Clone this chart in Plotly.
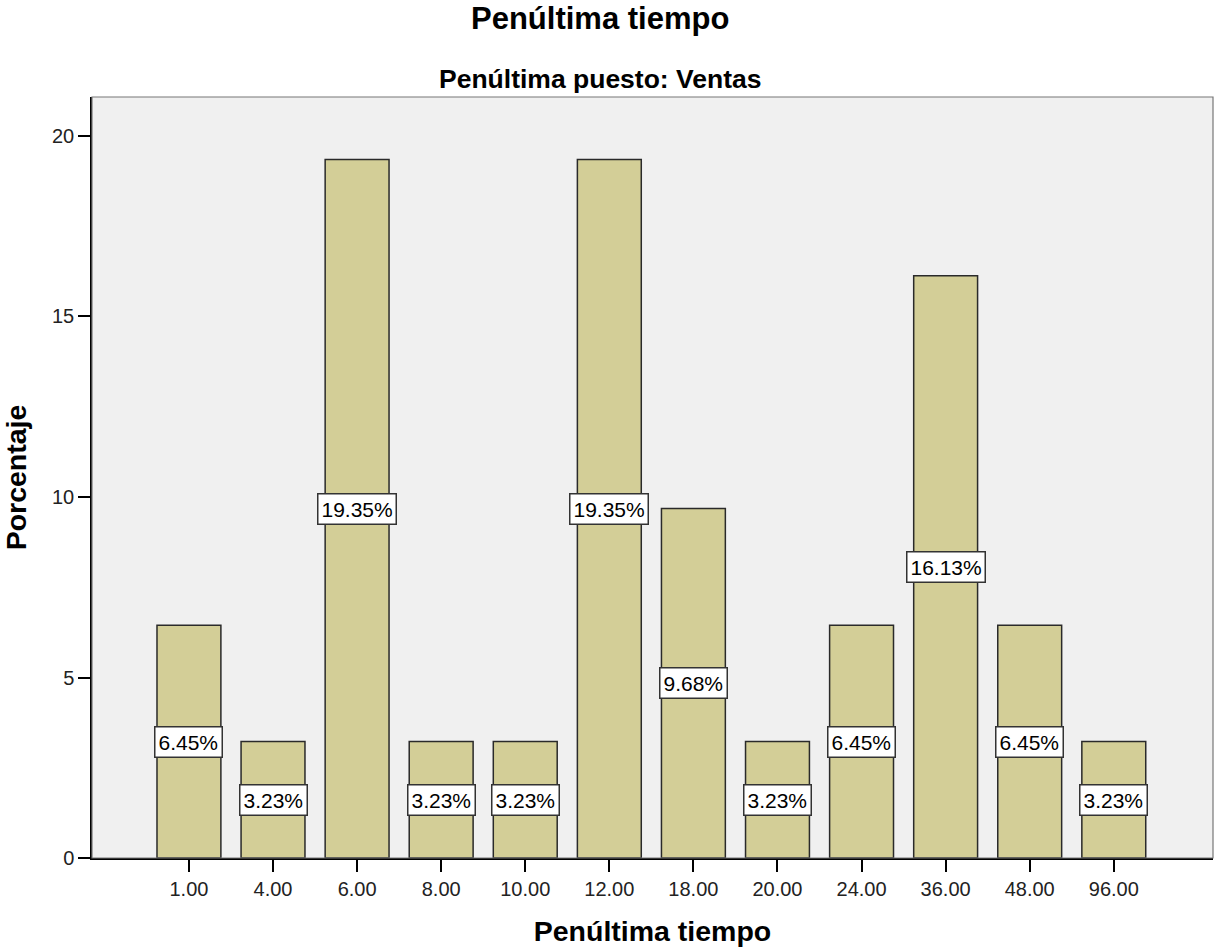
import plotly.graph_objects as go

categories = ["1.00", "4.00", "6.00", "8.00", "10.00", "12.00", "18.00", "20.00", "24.00", "36.00", "48.00", "96.00"]
percentages = [6.45, 3.23, 19.35, 3.23, 3.23, 19.35, 9.68, 3.23, 6.45, 16.13, 6.45, 3.23]
y_ticks = [0, 5, 10, 15, 20]

FONT = "Liberation Sans, Arial, sans-serif"

fig = go.Figure()
fig.add_trace(go.Bar(
    x=categories, y=percentages,
    marker=dict(color="#D3CE97", line=dict(color="#2A2A2A", width=1.5)),
    width=0.76,
    hoverinfo="x+y",
))

for i, v in enumerate(percentages):
    fig.add_annotation(
        x=i, y=v / 2, xref="x", yref="y",
        text=f"{v:.2f}%", showarrow=False,
        font=dict(family=FONT, size=21, color="#000000"),
        bgcolor="#FFFFFF", bordercolor="#333333", borderwidth=1.5, borderpad=3,
    )

fig.add_annotation(
    x=0.454, y=1.0, xref="paper", yref="paper", yanchor="bottom", yshift=1,
    text="<b>Penúltima puesto: Ventas</b>", showarrow=False,
    font=dict(family=FONT, size=26.5, color="#000000"),
)

fig.add_shape(type="rect", xref="paper", yref="paper", x0=0, y0=0, x1=1, y1=1,
              line=dict(color="#777777", width=1.2), layer="above")

fig.update_layout(
    width=1215, height=950,
    margin=dict(l=92, r=2, t=97, b=92),
    paper_bgcolor="#FFFFFF", plot_bgcolor="#F0F0F0",
    showlegend=False,
    title=dict(text="<b>Penúltima tiempo</b>", x=0.494, xanchor="center", y=0.981, yanchor="middle",
               font=dict(family=FONT, size=31, color="#000000")),
    xaxis=dict(
        type="category", range=[-1.153, 12.18],
        showgrid=False, showline=True, linecolor="#000000", linewidth=1.5,
        ticks="outside", ticklen=12, tickcolor="#000000", tickwidth=1.5,
        tickfont=dict(family=FONT, size=20, color="#222222"),
        title=dict(text="<b>Penúltima tiempo</b>", font=dict(family=FONT, size=28.5, color="#000000"), standoff=22),
    ),
    yaxis=dict(
        range=[0, 21.08], tickvals=y_ticks, ticktext=[str(t) for t in y_ticks],
        showgrid=False, zeroline=False, showline=True, linecolor="#000000", linewidth=1.5,
        ticks="outside", ticklen=12, tickcolor="#000000", tickwidth=1.5,
        tickfont=dict(family=FONT, size=20, color="#222222"),
        title=dict(text="<b>Porcentaje</b>", font=dict(family=FONT, size=28.5, color="#000000"), standoff=17),
    ),
)

fig.write_html("out.html")
